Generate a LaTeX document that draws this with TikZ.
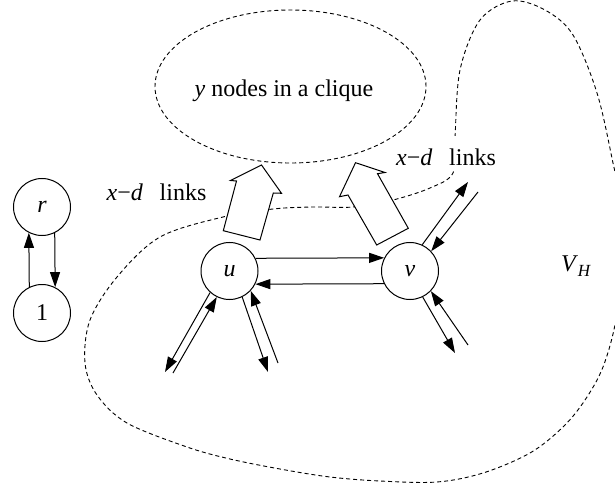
\documentclass[tikz,border=0pt]{standalone}
\usepackage{fontspec}
\setmainfont{Liberation Serif}
\usetikzlibrary{arrows.meta,shapes.geometric,calc}
\begin{document}
\begin{tikzpicture}[x=0.5pt,y=-0.5pt,
  every node/.style={font=\fontsize{12}{14}\selectfont},
  vertex/.style={circle,draw,line width=0.5pt,minimum size=28.5pt,inner sep=0pt},
  link/.style={line width=0.5pt,-{Triangle[length=7.5pt,width=5pt]}},
  region/.style={draw,line width=0.45pt,dash pattern=on 2pt off 1.5pt},
  fat/.style={draw,line width=0.5pt,fill=white,line join=miter},
  lbl/.style={anchor=base,inner sep=1pt}]
\useasboundingbox (0,0) rectangle (615,486);

% V_H region
\draw[region] plot[smooth cycle,tension=0.55] coordinates {
  (453,173) (455,137) (460,70) (480,20) (512,1) (545,10) (573,35) (597,93)
  (613,163) (628,240) (616,320) (603,367) (585,400) (563,427) (530,453)
  (483,473) (437,482) (380,481) (330,477) (280,469) (230,459) (187,447)
  (127,423) (97,395) (85,363) (90,320) (117,277) (160,237) (223,217)
  (273,209) (313,207) (353,207) (393,200) (430,188)};

% clique ellipse
\node[region,ellipse,minimum width=135.5pt,minimum height=76.5pt,inner sep=0pt] (clique) at (290.5,86.5) {};
\node[lbl] (cliquetext) at (284,96.7) {\textit{y} nodes in a clique};

% vertices
\node[vertex] (r) at (42,207) {\textit{r}};
\node[vertex] (one) at (42,313) {1};
\node[vertex] (u) at (229.5,271) {\textit{u}};
\node[vertex] (v) at (410,271) {\textit{v}};

% r <-> 1
\draw[link] (one.116.6) -- (r.243.4);
\draw[link] (r.296.6) -- (one.63.4);

% u <-> v
\draw[link] (u.26.6) -- (v.153.4);
\draw[link] (v.206.6) -- (u.333.4);

% free ends
\coordinate (ua1) at (165,372);
\coordinate (ua2) at (173,373);
\coordinate (ub1) at (268,372);
\coordinate (ub2) at (278,363);
\coordinate (va1) at (468,182);
\coordinate (va2) at (478,192);
\coordinate (vb1) at (455,353);
\coordinate (vb2) at (468,345);

\draw[link] (u.228) -- (ua1);
\draw[link] (ua2) -- (u.244);
\draw[link] (u.296) -- (ub1);
\draw[link] (ub2) -- (u.317);
\draw[link] (v.65) -- (va1);
\draw[link] (va2) -- (v.43);
\draw[link] (v.296) -- (vb1);
\draw[link] (vb2) -- (v.316);

% block arrows
\draw[fat] (223.3,230.7) -- (236.5,181) -- (230.5,180.5) -- (261.5,165) -- (281.5,193.3) -- (273.3,193) -- (260,240) -- cycle;
\draw[fat] (408.3,228.3) -- (377.5,173.7) -- (385,172.5) -- (355.5,162.7) -- (339.5,196.7) -- (348,195) -- (376.7,245) -- cycle;

% labels
\node[lbl] (lab1) at (156.5,201) {\textit{x}−\textit{d}\hspace{0.7em}links};
\node[lbl,fill=white,text height=14pt,text depth=1pt] (lab2) at (446,165.7) {\textit{x}−\textit{d}\hspace{0.7em}links};
\node[lbl] (vh) at (576,271.7) {\textit{V}\raisebox{-2.5pt}{\fontsize{8.5}{10}\selectfont\textit{H}}};
\end{tikzpicture}
\end{document}
